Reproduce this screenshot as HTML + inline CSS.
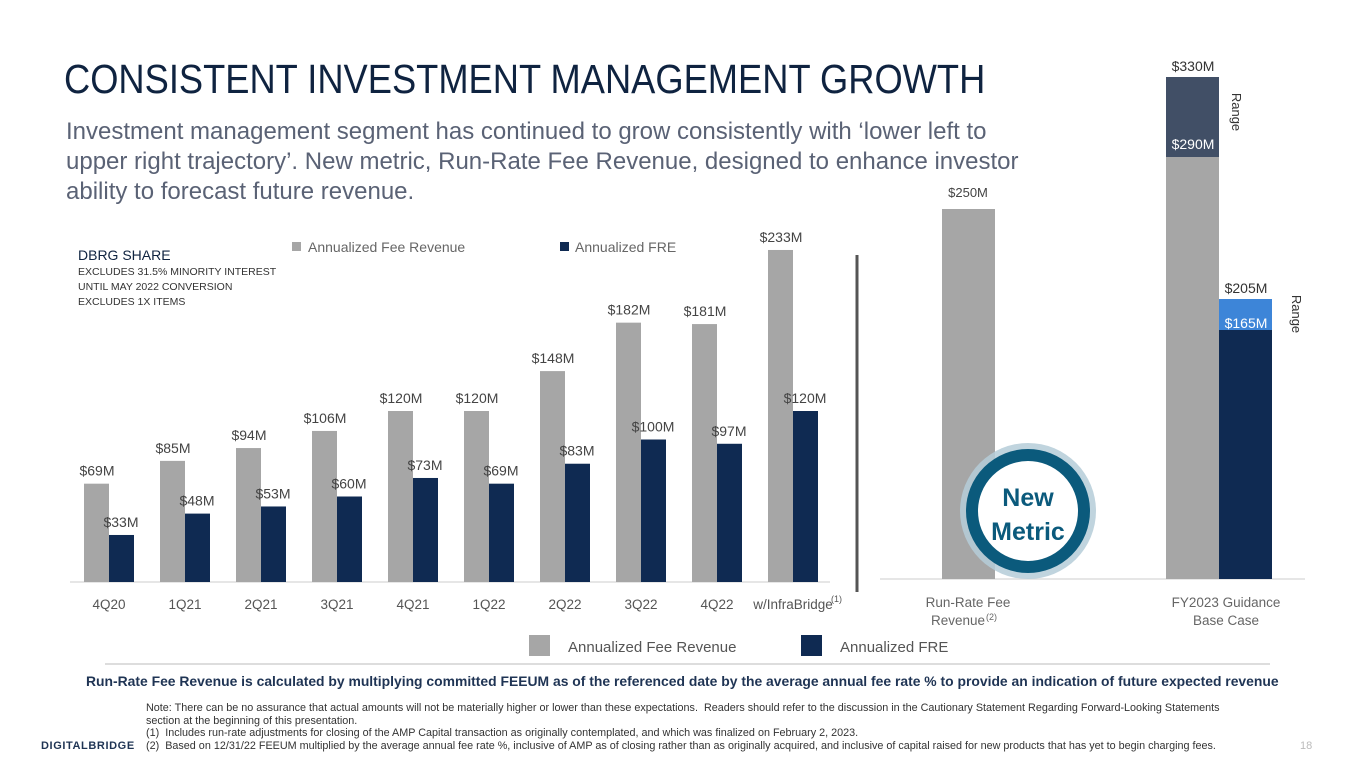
<!DOCTYPE html>
<html><head><meta charset="utf-8">
<style>
body{margin:0;width:1365px;height:768px;background:#fff;overflow:hidden;font-family:"Liberation Sans",sans-serif;position:relative}
.abs{position:absolute}
</style></head>
<body>
<div class="abs" style="left:64px;top:56px;font-size:41px;color:#0f2340;transform:scaleX(0.885);transform-origin:left;white-space:nowrap">CONSISTENT INVESTMENT MANAGEMENT GROWTH</div>
<div class="abs" style="left:66px;top:117px;width:1035px;font-size:24px;line-height:30px;color:#5a6275">Investment management segment has continued to grow consistently with ‘lower left to<br>upper right trajectory’. New metric, Run-Rate Fee Revenue, designed to enhance investor<br>ability to forecast future revenue.</div>
<div class="abs" style="left:78px;top:247px;color:#333">
<div style="font-size:14px;color:#0f2340">DBRG SHARE</div>
<div style="font-size:10.5px;line-height:15px;margin-top:2px">EXCLUDES 31.5% MINORITY INTEREST<br>UNTIL MAY 2022 CONVERSION<br>EXCLUDES 1X ITEMS</div>
</div>
<svg class="abs" style="left:0;top:0" width="1365" height="768" id="chart">
<line x1="857" y1="255" x2="857" y2="592" stroke="#555" stroke-width="3"/>
<line x1="105" y1="664" x2="1270" y2="664" stroke="#ddd" stroke-width="2"/>
</svg>
<div class="abs" style="left:86px;top:673px;font-size:13.9px;color:#1f3454;font-weight:bold;white-space:nowrap">Run-Rate Fee Revenue is calculated by multiplying committed FEEUM as of the referenced date by the average annual fee rate % to provide an indication of future expected revenue</div>
<div class="abs" style="left:146px;top:702px;font-size:10.8px;line-height:12.5px;color:#333;white-space:nowrap">Note: There can be no assurance that actual amounts will not be materially higher or lower than these expectations.&nbsp; Readers should refer to the discussion in the Cautionary Statement Regarding Forward-Looking Statements<br>section at the beginning of this presentation.<br>(1)&nbsp; Includes run-rate adjustments for closing of the AMP Capital transaction as originally contemplated, and which was finalized on February 2, 2023.<br>(2)&nbsp; Based on 12/31/22 FEEUM multiplied by the average annual fee rate %, inclusive of AMP as of closing rather than as originally acquired, and inclusive of capital raised for new products that has yet to begin charging fees.</div>
<div class="abs" style="left:41px;top:740px;font-size:11px;letter-spacing:0.6px;color:#1f3454;font-weight:bold">DIGITALBRIDGE</div>
<div class="abs" style="left:1300px;top:740px;font-size:11px;color:#bbb">18</div>
<script>
const categories=["4Q20","1Q21","2Q21","3Q21","4Q21","1Q22","2Q22","3Q22","4Q22","w/InfraBridge"];
const feeRevenue=[69,85,94,106,120,120,148,182,181,233];
const freValues=[33,48,53,60,73,69,83,100,97,120];
const rightCategories=["Run-Rate Fee Revenue","FY2023 Guidance Base Case"];
const runRateValue=[250];
const guidanceFeeLow=[290];
const guidanceFeeHigh=[330];
const guidanceFreLow=[165];
const guidanceFreHigh=[205];
const NS="http://www.w3.org/2000/svg";
const svg=document.getElementById('chart');
function mk(t,a,txt){const e=document.createElementNS(NS,t);for(const k in a)e.setAttribute(k,a[k]);if(txt!=null)e.textContent=txt;svg.appendChild(e);return e;}
// left chart
const base=582,sc=1.425;
const xc=i=>109+i*76;
const y=v=>base-v*sc;
mk('line',{x1:70,y1:base,x2:830,y2:base,stroke:'#ddd','stroke-width':1.5});
categories.forEach((c,i)=>{
 let r=mk('rect',{x:xc(i)-25,y:y(feeRevenue[i]),width:25,height:feeRevenue[i]*sc,fill:'#a6a6a6'});
 
 let b=mk('rect',{x:xc(i),y:y(freValues[i]),width:25,height:freValues[i]*sc,fill:'#0f2a52'});
 
 let t1=mk('text',{x:xc(i)-12,y:y(feeRevenue[i])-8,'text-anchor':'middle','font-size':14,fill:'#444'},'$'+feeRevenue[i]+'M');
 
 let t2=mk('text',{x:xc(i)+12,y:y(freValues[i])-8,'text-anchor':'middle','font-size':14,fill:'#444'},'$'+freValues[i]+'M');
 
 let tk=mk('text',{x:xc(i),y:609,'text-anchor':'middle','font-size':13.5,fill:'#555'},c);
 
 if(i===categories.length-1){let s=mk('text',{x:xc(i)+38,y:602,'font-size':9,fill:'#555'},'(1)');}
});
// top legend
mk('rect',{x:292,y:242,width:9,height:9,fill:'#a6a6a6'});
let lg1=mk('text',{x:308,y:252,'font-size':14,fill:'#666'},'Annualized Fee Revenue');
mk('rect',{x:560,y:242,width:9,height:9,fill:'#0f2a52'});
let lg2=mk('text',{x:575,y:252,'font-size':14,fill:'#666'},'Annualized FRE');
// bottom legend
mk('rect',{x:529,y:635,width:21,height:21,fill:'#a6a6a6'});
let lb1=mk('text',{x:568,y:652,'font-size':15,fill:'#555'},'Annualized Fee Revenue');
mk('rect',{x:801,y:635,width:21,height:21,fill:'#0f2a52'});
let lb2=mk('text',{x:840,y:652,'font-size':15,fill:'#555'},'Annualized FRE');
// right chart: axis function (piecewise, matching the source slide's non-uniform drawing)
const rb=579;
const knotsV=[0,165,205,250,290,330,400];
const knotsY=[579,330,299,209,157,77,-30];
function ry(v){for(let k=1;k<knotsV.length;k++){if(v<=knotsV[k]){const t=(v-knotsV[k-1])/(knotsV[k]-knotsV[k-1]);return knotsY[k-1]+t*(knotsY[k]-knotsY[k-1]);}}return knotsY[knotsY.length-1];}
mk('line',{x1:880,y1:rb,x2:1305,y2:rb,stroke:'#ddd','stroke-width':1.5});
let r1=mk('rect',{x:942,y:ry(runRateValue[0]),width:53,height:rb-ry(runRateValue[0]),fill:'#a6a6a6'});

mk('text',{x:968,y:ry(runRateValue[0])-12,'text-anchor':'middle','font-size':13,fill:'#444'},'$'+runRateValue[0]+'M');
let r2=mk('rect',{x:1166,y:ry(guidanceFeeHigh[0]),width:53,height:ry(guidanceFeeLow[0])-ry(guidanceFeeHigh[0]),fill:'#414f66'});

let r3=mk('rect',{x:1166,y:ry(guidanceFeeLow[0]),width:53,height:rb-ry(guidanceFeeLow[0]),fill:'#a6a6a6'});

mk('text',{x:1193,y:ry(guidanceFeeHigh[0])-6,'text-anchor':'middle','font-size':14,fill:'#333'},'$'+guidanceFeeHigh[0]+'M');
mk('text',{x:1193,y:ry(guidanceFeeLow[0])-8,'text-anchor':'middle','font-size':14,fill:'#fff'},'$'+guidanceFeeLow[0]+'M');
let r4=mk('rect',{x:1219,y:ry(guidanceFreHigh[0]),width:53,height:ry(guidanceFreLow[0])-ry(guidanceFreHigh[0]),fill:'#3d85d8'});

let r5=mk('rect',{x:1219,y:ry(guidanceFreLow[0]),width:53,height:rb-ry(guidanceFreLow[0]),fill:'#0f2a52'});

mk('text',{x:1246,y:ry(guidanceFreHigh[0])-6,'text-anchor':'middle','font-size':14,fill:'#333'},'$'+guidanceFreHigh[0]+'M');
mk('text',{x:1246,y:ry(guidanceFreLow[0])-2,'text-anchor':'middle','font-size':14,fill:'#fff'},'$'+guidanceFreLow[0]+'M');
mk('text',{x:1232,y:112,'font-size':13,fill:'#333',transform:'rotate(90 1232 112)','text-anchor':'middle'},'Range');
mk('text',{x:1292,y:314,'font-size':13,fill:'#333',transform:'rotate(90 1292 314)','text-anchor':'middle'},'Range');
let x1=mk('text',{x:968,y:607,'text-anchor':'middle','font-size':13.5,fill:'#666'},'Run-Rate Fee');
mk('text',{x:958,y:625,'text-anchor':'middle','font-size':13.5,fill:'#666'},'Revenue');
mk('text',{x:986,y:620,'font-size':9,fill:'#666'},'(2)');
let x2=mk('text',{x:1226,y:607,'text-anchor':'middle','font-size':13.5,fill:'#666'},'FY2023 Guidance');
mk('text',{x:1226,y:625,'text-anchor':'middle','font-size':13.5,fill:'#666'},'Base Case');
// badge
mk('circle',{cx:1028,cy:511,r:68,fill:'#b5ccd8','fill-opacity':0.85});
mk('circle',{cx:1028,cy:511,r:56,fill:'#fff',stroke:'#0b5a7c','stroke-width':12});
let n1=mk('text',{x:1028,y:506,'text-anchor':'middle','font-size':25,'font-weight':'bold',fill:'#0b5a7c'},'New');
mk('text',{x:1028,y:540,'text-anchor':'middle','font-size':25,'font-weight':'bold',fill:'#0b5a7c'},'Metric');
</script>
</body></html>
